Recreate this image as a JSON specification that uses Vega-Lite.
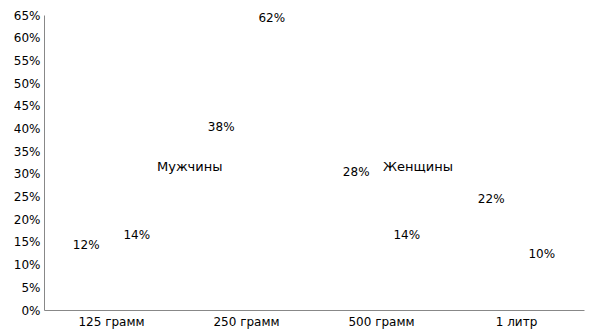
{
  "$schema": "https://vega.github.io/schema/vega-lite/v6.json",
  "width": 540,
  "height": 295,
  "autosize": {"type": "none"},
  "padding": {"left": 44, "top": 15, "right": 12, "bottom": 26},
  "background": "white",
  "config": {
    "font": "DejaVu Sans",
    "view": {"stroke": null},
    "axis": {"labelFont": "DejaVu Sans", "labelFontSize": 12, "labelColor": "black", "domainColor": "#888888", "ticks": false, "grid": false, "title": null},
    "legend": {"labelFont": "DejaVu Sans", "labelFontSize": 13, "labelColor": "black"}
  },
  "data": {
    "values": [
      {"volume": "125 грамм", "gender": "Мужчины", "share": 0.12},
      {"volume": "125 грамм", "gender": "Женщины", "share": 0.14},
      {"volume": "250 грамм", "gender": "Мужчины", "share": 0.38},
      {"volume": "250 грамм", "gender": "Женщины", "share": 0.62},
      {"volume": "500 грамм", "gender": "Мужчины", "share": 0.28},
      {"volume": "500 грамм", "gender": "Женщины", "share": 0.14},
      {"volume": "1 литр", "gender": "Мужчины", "share": 0.22},
      {"volume": "1 литр", "gender": "Женщины", "share": 0.10}
    ]
  },
  "encoding": {
    "x": {"field": "volume", "type": "nominal", "sort": ["125 грамм", "250 грамм", "500 грамм", "1 литр"],
          "scale": {"paddingInner": 0.25, "paddingOuter": 0.125},
          "axis": {"labelAngle": 0, "labelPadding": 6}},
    "xOffset": {"field": "gender", "type": "nominal", "sort": ["Мужчины", "Женщины"]},
    "y": {"field": "share", "type": "quantitative", "scale": {"domain": [0, 0.65], "nice": false},
          "axis": {"format": ".0%", "values": [0, 0.05, 0.1, 0.15, 0.2, 0.25, 0.3, 0.35, 0.4, 0.45, 0.5, 0.55, 0.6, 0.65], "labelPadding": 4}}
  },
  "layer": [
    {
      "mark": {"type": "bar", "fill": "white", "fillOpacity": 0},
      "encoding": {
        "color": {"field": "gender", "type": "nominal", "sort": ["Мужчины", "Женщины"],
                  "scale": {"range": ["white", "white"]},
                  "legend": {"title": null, "orient": "none", "direction": "horizontal", "legendX": 100, "legendY": 145,
                             "symbolSize": 0, "symbolOpacity": 0, "symbolStrokeWidth": 0, "labelOffset": 0, "columnPadding": 147}}
      }
    },
    {
      "mark": {"type": "text", "fontSize": 12, "color": "black", "baseline": "middle", "dy": -11},
      "encoding": {"text": {"field": "share", "type": "quantitative", "format": ".0%"}}
    }
  ]
}
